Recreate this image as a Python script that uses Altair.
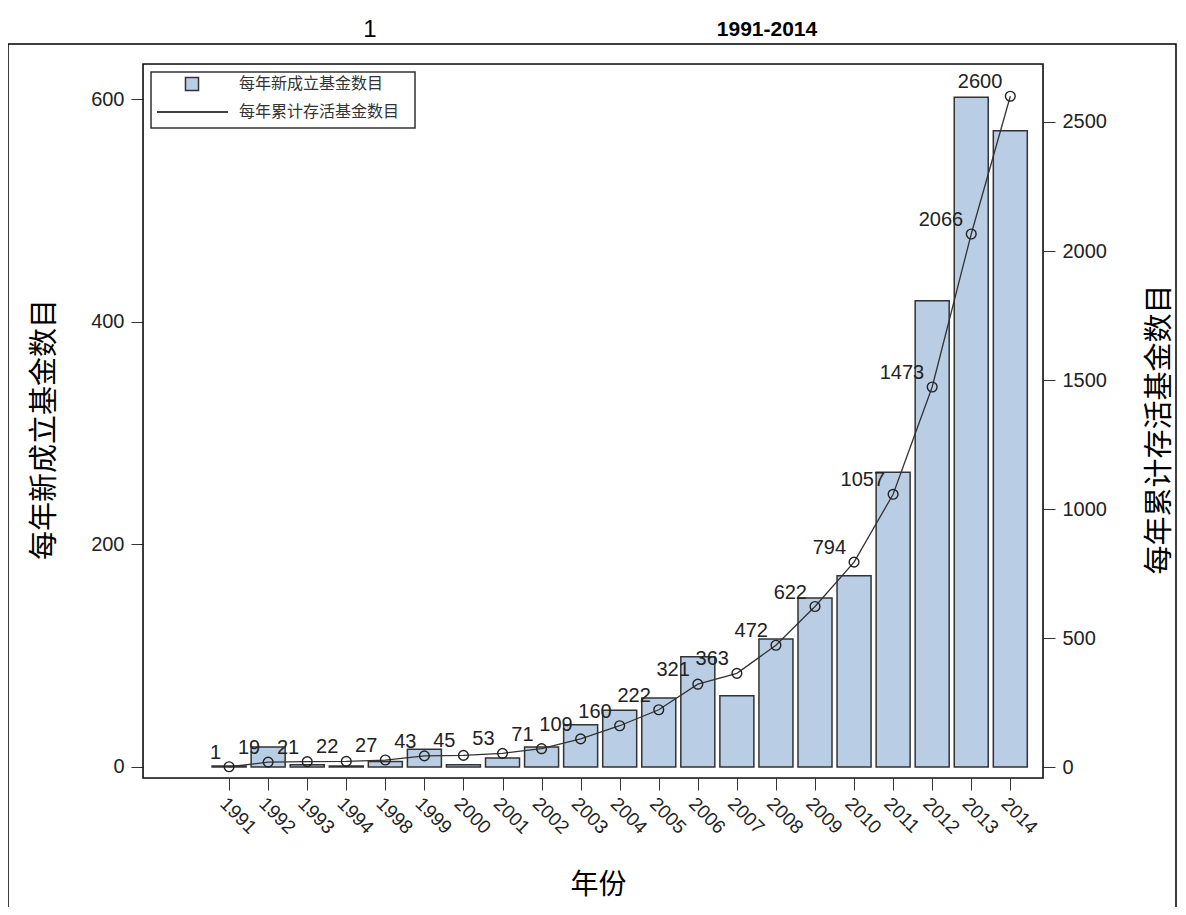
import altair as alt
import pandas as pd

years = ["1991", "1992", "1993", "1994", "1998", "1999", "2000", "2001", "2002", "2003",
         "2004", "2005", "2006", "2007", "2008", "2009", "2010", "2011", "2012", "2013", "2014"]
new_funds = [1, 18, 2, 1, 5, 16, 2, 8, 18, 38, 51, 62, 99, 64, 115, 152, 172, 265, 419, 602, 572]
cum_funds = [1, 19, 21, 22, 27, 43, 45, 53, 71, 109, 160, 222, 321, 363, 472, 622, 794, 1057, 1473, 2066, 2600]

legend_labels = ["每年新成立基金数目", "每年累计存活基金数目"]
left_title = "每年新成立基金数目"
right_title = "每年累计存活基金数目"
x_title = "年份"
title_parts = ["1", "1991-2014"]

df = pd.DataFrame({
    "idx": list(range(len(years))),
    "year": years,
    "new": new_funds,
    "cum": cum_funds,
})

one = pd.DataFrame({"a": [0]})

BAR_FILL = "#B9CDE5"
DARK = "#333333"
NUM_FONT = "Liberation Sans"
CJK = "Noto Sans CJK SC"

label_expr = "[" + ",".join("'%s'" % y for y in years) + "][datum.value]"

x_enc = alt.X(
    "idx:Q",
    scale=alt.Scale(domain=[-2.076, 20.709], nice=False, zero=False),
    axis=alt.Axis(
        values=list(range(len(years))),
        labelExpr=label_expr,
        labelAngle=45,
        labelAlign="left",
        labelBaseline="top",
        labelPadding=4,
        labelFontSize=19,
        labelFont=NUM_FONT,
        labelColor="#222222",
        tickSize=12,
        tickColor=DARK,
        domain=False,
        grid=False,
        title=x_title,
        titleFont=CJK,
        titleFontSize=28,
        titleFontWeight="normal",
        titleX=455,
        titleY=107,
        titleAlign="center",
        titleBaseline="middle",
        labelOverlap=False,
    ),
)

y_left = alt.Y(
    "new:Q",
    scale=alt.Scale(domain=[-9.89, 631.9], nice=False, zero=False),
    axis=alt.Axis(
        orient="left",
        values=[0, 200, 400, 600],
        format="d",
        tickSize=12,
        tickColor=DARK,
        labelPadding=7,
        labelFontSize=20,
        labelFont=NUM_FONT,
        labelColor="#222222",
        domain=False,
        grid=False,
        title=left_title,
        titleFont=CJK,
        titleFontSize=29,
        titleFontWeight="normal",
        titleAngle=-90,
        titleX=-99,
        titleY=365,
        titleAlign="center",
        titleBaseline="middle",
    ),
)

y_right = alt.Y(
    "cum:Q",
    scale=alt.Scale(domain=[-42.6, 2724.8], nice=False, zero=False),
    axis=alt.Axis(
        orient="right",
        values=[0, 500, 1000, 1500, 2000, 2500],
        format="d",
        tickSize=12,
        tickColor=DARK,
        labelPadding=7,
        labelFontSize=20,
        labelFont=NUM_FONT,
        labelColor="#222222",
        domain=False,
        grid=False,
        title=right_title,
        titleFont=CJK,
        titleFontSize=29,
        titleFontWeight="normal",
        titleAngle=-90,
        titleX=116,
        titleY=365,
        titleAlign="center",
        titleBaseline="middle",
    ),
)

bars = alt.Chart(df).mark_bar(size=34, fill=BAR_FILL, stroke=DARK, strokeWidth=1.5).encode(
    x=x_enc, y=y_left
)

line = alt.Chart(df).mark_line(color=DARK, strokeWidth=1.3).encode(x=x_enc, y=y_right)
points = alt.Chart(df).mark_point(shape="circle", size=95, filled=False, color="#222222",
                                  strokeWidth=1.4, opacity=1).encode(
    x=x_enc, y=y_right
)
labels = alt.Chart(df).mark_text(
    align="right", baseline="alphabetic", dx=-8, dy=-8, fontSize=20, font=NUM_FONT, color="#222222"
).encode(x=x_enc, y=y_right, text="cum:Q")

right_layer = alt.layer(line, points, labels)
main = alt.layer(bars, right_layer).resolve_scale(y="independent")

# plot frame
plot_frame = alt.Chart(one).mark_rect(fillOpacity=0, stroke="#111111", strokeWidth=1.6).encode(
    x=alt.value(0), x2=alt.value(900), y=alt.value(0), y2=alt.value(714)
)

# legend
leg_box = alt.Chart(one).mark_rect(fillOpacity=0, stroke=DARK, strokeWidth=1.5).encode(
    x=alt.value(8), x2=alt.value(272), y=alt.value(8), y2=alt.value(64)
)
leg_sq = alt.Chart(one).mark_point(shape="square", size=170, filled=True, fill=BAR_FILL, stroke=DARK,
                                   strokeWidth=1.5, opacity=1).encode(
    x=alt.value(49), y=alt.value(20)
)
leg_line = alt.Chart(one).mark_rule(color="black", strokeWidth=1.3).encode(
    x=alt.value(14), x2=alt.value(85), y=alt.value(48)
)
leg_t1 = alt.Chart(one).mark_text(align="left", baseline="middle", font=CJK, fontSize=16, color="#333333").encode(
    x=alt.value(96), y=alt.value(20), text=alt.value(legend_labels[0])
)
leg_t2 = alt.Chart(one).mark_text(align="left", baseline="middle", font=CJK, fontSize=16, color="#333333").encode(
    x=alt.value(96), y=alt.value(48), text=alt.value(legend_labels[1])
)

# title and outer frame
t1 = alt.Chart(one).mark_text(align="center", baseline="middle", font=NUM_FONT, fontSize=24, color="black").encode(
    x=alt.value(227), y=alt.value(-34), text=alt.value(title_parts[0])
)
t2 = alt.Chart(one).mark_text(align="center", baseline="middle", font=NUM_FONT, fontSize=21,
                              fontWeight="bold", color="black").encode(
    x=alt.value(624), y=alt.value(-34), text=alt.value(title_parts[1])
)
frame = alt.Chart(one).mark_rect(fillOpacity=0, stroke="black", strokeWidth=1.5).encode(
    x=alt.value(-135), x2=alt.value(1033), y=alt.value(-20), y2=alt.value(870)
)

chart = alt.layer(main, plot_frame, leg_box, leg_sq, leg_line, leg_t1, leg_t2, t1, t2, frame).properties(
    width=900,
    height=714,
    padding={"left": 135, "top": 56, "right": 135, "bottom": 129},
    autosize=alt.AutoSizeParams(type="none"),
).configure_view(stroke=None).configure(background="white")

chart.save("out.html", embed_options={"renderer": "svg", "actions": False})
